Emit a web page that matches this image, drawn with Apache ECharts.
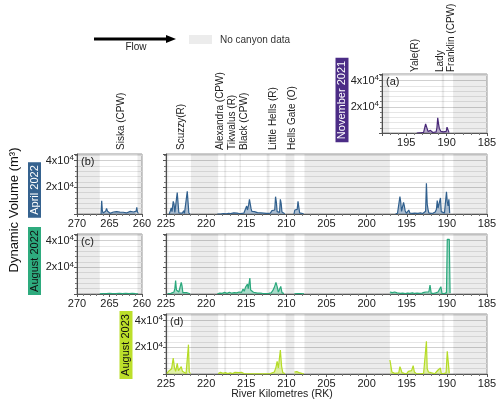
<!DOCTYPE html>
<html>
<head>
<meta charset="utf-8">
<script src="https://cdn.jsdelivr.net/npm/echarts@6/dist/echarts.min.js"></script>
<style>
  html, body { margin: 0; padding: 0; background: #fff; }
  #chart { width: 500px; height: 406px; }
</style>
</head>
<body>
<div id="chart"></div>
<script>
// [river km, dynamic volume (m3)]; a null volume breaks the line
const nov2021 = [[193.7,0],[193.4,200],[193.1,300],[192.85,400],[192.7,1500],[192.6,7000],[192.5,6000],[192.4,6800],[192.3,1200],[192.15,600],[192.0,2000],[191.9,500],[191.7,400],[191.5,600],[191.3,800],[191.2,4000],[191.1,11500],[191.0,7000],[190.9,3500],[190.8,4200],[190.7,1200],[190.55,600],[190.4,800],[190.3,2000],[190.2,900],[190.05,1200],[189.95,4500],[189.8,4800],[189.7,300]];

const apr2022Siska = [[266.3,0],[266.2,10000],[266.1,2500],[266.0,800],[265.8,1200],[265.6,2000],[265.45,4200],[265.3,2000],[265.1,700],[264.9,500],[264.6,900],[264.4,1500],[264.2,700],[263.9,1800],[263.7,900],[263.4,1400],[263.1,600],[262.9,1300],[262.6,1900],[262.4,800],[262.1,1200],[261.8,2000],[261.6,900],[261.3,1500],[261.1,700],[260.9,2200],[260.8,5000],[260.7,1500],[260.55,400]];

const apr2022 = [[224.6,0],[224.45,2500],[224.35,4500],[224.25,1800],[224.1,9500],[224.0,7500],[223.9,1200],[223.75,600],[223.6,16000],[223.5,14500],[223.4,900],[223.2,500],[222.95,700],[222.8,2500],[222.7,500],[222.5,400],[222.35,17000],[222.25,15500],[222.15,600],[222.0,200],
  [220,null],
  [218.6,0],[218.5,900],[218.4,200],[218.1,150],[217.8,300],[217.5,200],[217.2,400],[216.95,300],[216.85,1300],[216.75,400],[216.55,900],[216.35,300],[216.15,700],[215.9,300],[215.6,400],[215.3,600],[215.1,1500],[214.95,6000],[214.85,3000],[214.7,7000],[214.6,11000],[214.5,10500],[214.4,4000],[214.3,2000],[214.15,3000],[214.0,1800],[213.8,2200],[213.6,1000],[213.4,1600],[213.2,900],[213.0,1300],[212.8,700],[212.5,400],[212.25,500],[212.0,700],[211.8,2500],[211.7,1200],[211.6,3500],[211.45,3000],[211.35,13000],[211.25,9000],[211.15,1800],[211.0,1500],[210.85,1200],[210.75,11000],[210.65,8000],[210.55,1500],[210.4,400],[210.2,200],
  [209.5,null],
  [209.05,0],[208.95,3000],[208.85,2000],[208.75,4500],[208.65,3500],[208.55,9500],[208.45,10500],[208.35,900],[208.15,400],[207.85,200],
  [202,null],
  [196.4,0],[196.15,600],[196.0,1000],[195.85,13000],[195.75,9000],[195.65,2000],[195.5,3000],[195.4,8700],[195.3,6000],[195.2,2500],[195.05,500],[194.85,1000],[194.75,3000],[194.6,600],[194.3,400],[194.0,700],[193.6,500],[193.3,800],[193.0,400],[192.8,700],[192.65,2000],[192.55,23000],[192.45,7500],[192.35,3500],[192.25,800],[192.0,500],[191.7,700],[191.45,1500],[191.3,3500],[191.2,10000],[191.1,4500],[191.0,3000],[190.9,5000],[190.8,12000],[190.7,1800],[190.5,800],[190.3,700],[190.15,2000],[190.05,16700],[189.95,9000],[189.85,6000],[189.75,11000],[189.65,600]];

const aug2022Siska = [[266.5,200],[266.0,300],[265.5,250],[265.0,400],[264.5,300],[264.0,350],[263.5,500],[263.0,300],[262.5,400],[262.0,300],[261.5,450],[261.0,300],[260.6,200]];

const aug2022 = [[224.8,300],[224.6,700],[224.4,500],[224.2,800],[224.0,1500],[223.9,4000],[223.8,10000],[223.7,3000],[223.55,2500],[223.4,1500],[223.25,3000],[223.1,8700],[223.0,6000],[222.9,1000],[222.7,300],[222.45,1000],[222.25,300],[222.0,200],
  [220,null],
  [218.6,200],[218.3,700],[218.0,500],[217.7,1200],[217.4,500],[217.1,1300],[216.8,600],[216.5,1000],[216.2,800],[215.9,1500],[215.6,1200],[215.4,3700],[215.25,2000],[215.1,5000],[215.0,3500],[214.85,7500],[214.75,4000],[214.55,12000],[214.45,3000],[214.3,1500],[214.1,1300],[213.9,800],[213.6,700],[213.3,600],[213.0,400],[212.6,300],[212.2,500],[211.9,800],[211.7,2500],[211.5,5000],[211.3,8700],[211.15,5500],[211.0,1500],[210.85,3500],[210.7,5700],[210.55,1000],[210.3,300],
  [209.5,null],
  [209.0,200],[208.8,500],[208.6,300],[208.4,600],[208.2,300],[208.0,400],[207.8,200],
  [202,null],
  [197.1,1500],[196.95,2500],[196.8,1000],[196.65,2000],[196.5,1500],[196.35,2500],[196.2,800],[196.0,1500],[195.8,500],[195.5,700],[195.2,300],[194.9,600],[194.6,500],[194.3,900],[194.0,400],[193.7,600],[193.4,500],[193.1,700],[192.85,1200],[192.6,1500],[192.4,3000],[192.25,1500],[192.1,6700],[191.95,500],[191.7,400],[191.4,800],[191.1,1500],[190.95,1000],[190.75,5500],[190.6,300],[190.3,300],[190.05,1000],[189.95,41000],[189.7,41000],[189.6,500]];

const aug2023 = [[224.9,500],[224.75,1000],[224.6,2500],[224.45,1500],[224.3,4000],[224.1,12000],[223.95,5000],[223.8,2000],[223.6,8000],[223.45,2500],[223.3,1500],[223.1,5500],[222.95,2000],[222.75,500],[222.5,300],[222.35,800],[222.2,22000],[222.1,1500],[221.95,300],
  [220,null],
  [218.5,300],[218.2,1200],[217.9,500],[217.6,1000],[217.3,300],[217.0,800],[216.7,300],[216.4,1200],[216.2,1500],[215.9,1000],[215.6,1300],[215.3,300],[215.0,200],[214.5,100],[214.0,200],[213.5,150],[213.0,200],[212.5,100],[212.0,300],[211.8,1500],[211.5,1500],[211.3,5000],[211.15,9500],[211.0,4500],[210.9,3000],[210.75,18000],[210.6,6000],[210.45,1000],[210.3,300],[210.15,200],
  [209.5,null],
  [209.0,1500],[208.85,2500],[208.7,1800],[208.5,2500],[208.3,800],[208.0,300],[207.8,200],
  [202,null],
  [197.1,10500],[197.0,7000],[196.85,1500],[196.7,1200],[196.5,500],[196.3,300],[196.0,800],[195.85,5500],[195.7,3000],[195.6,1000],[195.45,2500],[195.3,500],[195.0,300],[194.8,2000],[194.6,800],[194.4,2500],[194.2,6200],[194.05,1500],[193.8,300],[193.5,200],[193.2,300],[192.9,500],[192.7,1500],[192.55,24500],[192.45,4000],[192.3,1500],[192.15,3000],[192.0,1000],[191.8,300],[191.5,200],[191.3,1500],[191.1,3000],[190.95,1500],[190.8,4500],[190.7,500],[190.4,300],[190.1,800],[189.95,17000],[189.8,17000],[189.7,500]];

// reaches with no canyon data [from km, to km]
const noDataMain = [[225,224.7],[221.9,218.5],[217.75,217.5],[215.85,215.65],[212.45,212.1],[210.1,209.0],[207.75,197.1],[190.6,190.3],[189.2,185]];
const noDataSiska = [[270,266.5],[260.7,260]];
const noDataNov = [[198,197.1],[190.6,190.3],[189.2,185]];

// sites marked above the panels
const sitesMain = [['Scuzzy(R)',223.1],['Alexandra (CPW)',218.25],['Tikwalus (R)',216.8],['Black (CPW)',215.2],['Little Hells (R)',211.6],['Hells Gate (O)',209.3]];
const sitesSiska = [['Siska (CPW)',263.2]];
const sitesNov = [['Yale(R)',193.9],['Lady\nFranklin (CPW)',190.1]];

const surveys = ['November 2021','April 2022','August 2022','August 2023'];
const colors = ['#482878','#31608e','#2aa87c','#b5dc26'];

const FONT = 'Liberation Sans, Arial, sans-serif';

// panel layout: a, b-left, b-right, c-left, c-right, d
const grids = [
  {left:382, top:74,  width:105, height:59},
  {left:77,  top:154, width:65,  height:60},
  {left:166, top:154, width:321, height:60},
  {left:77,  top:234, width:65,  height:60},
  {left:166, top:234, width:321, height:60},
  {left:166, top:314, width:321, height:60}
];
const xRanges = [[185,198],[260,270],[185,225],[260,270],[185,225],[185,225]];
const yLabelShown = [true,true,false,true,false,true];

function xAxisFor(i) {
  return {
    type:'value', gridIndex:i, min:xRanges[i][0], max:xRanges[i][1], interval:5, inverse:true,
    axisLine:{lineStyle:{color:'#555', width:1}},
    axisTick:{length:3, lineStyle:{color:'#555'}},
    minorTick:{show:true, splitNumber:5, length:2, lineStyle:{color:'#777'}},
    splitLine:{show:false},
    axisLabel:{fontSize:11, color:'#222', margin:4, fontFamily:FONT,
      formatter: v => (v % 5 === 0 ? String(v) : '')}
  };
}

function yAxisFor(i) {
  return {
    type:'value', gridIndex:i, min:0, max:45000, interval:20000,
    axisLine:{show:true, lineStyle:{color:'#555', width:1}},
    axisTick:{show:true, length:3, lineStyle:{color:'#555'}},
    minorTick:{show:true, splitNumber:5, length:2, lineStyle:{color:'#777'}},
    splitLine:{show:true, lineStyle:{color:'#d0d0d0'}},
    minorSplitLine:{show:true, lineStyle:{color:'#e6e6e6'}},
    axisLabel:{show:yLabelShown[i], fontSize:11, color:'#222', margin:3, fontFamily:FONT,
      formatter: v => (v === 20000 || v === 40000 ? (v/10000) + 'x10{sup|4}' : ''),
      rich:{sup:{fontSize:8, verticalAlign:'top', padding:[0,0,6,0], fontFamily:FONT, color:'#222'}}}
  };
}

function areas(list) {
  return {
    silent:true,
    itemStyle:{color:'rgba(0,0,0,0.075)'},
    data:list.map(r => [{xAxis:r[0]}, {xAxis:r[1]}])
  };
}

function series(i, data, color, shade) {
  return {
    type:'line', xAxisIndex:i, yAxisIndex:i, data:data, showSymbol:false,
    connectNulls:false, animation:false,
    lineStyle:{color:color, width:1.2},
    areaStyle:{color:color, opacity:0.4},
    markArea:areas(shade)
  };
}

const chart = echarts.init(document.getElementById('chart'));
chart.setOption({
  animation:false,
  grid:grids.map(g => Object.assign({show:true, borderColor:'#999', borderWidth:1}, g)),
  xAxis:grids.map((g,i) => xAxisFor(i)),
  yAxis:grids.map((g,i) => yAxisFor(i)),
  series:[
    series(0, nov2021, colors[0], noDataNov),
    series(1, apr2022Siska, colors[1], noDataSiska),
    series(2, apr2022, colors[1], noDataMain),
    series(3, aug2022Siska, colors[2], noDataSiska),
    series(4, aug2022, colors[2], noDataMain),
    series(5, aug2023, colors[3], noDataMain)
  ]
});

// rotated site names, placed from their river km, reading upwards from the baseline
function siteLabels(list, gridIdx, bottom) {
  return list.map(([name, km]) => ({
    type:'text',
    x:chart.convertToPixel({xAxisIndex:gridIdx}, km), y:bottom,
    rotation:Math.PI/2,
    style:{text:name, fill:'#222', font:'10px ' + FONT, align:'left', verticalAlign:'middle', lineHeight:11}
  }));
}

function surveyBox(text, x, y, bg, fg) {
  return {type:'text', x:x, y:y, rotation:Math.PI/2,
    style:{text:text, fill:fg, backgroundColor:bg, padding:[1,3,1,3], font:'11px ' + FONT,
      align:'center', verticalAlign:'middle'}};
}

const letters = ['(a)','(b)',null,'(c)',null,'(d)'];
const graphics = [
  {type:'line', shape:{x1:94, y1:39, x2:168, y2:39}, style:{stroke:'#000', lineWidth:3}},
  {type:'polygon', shape:{points:[[166,35],[176,39],[166,43]]}, style:{fill:'#000'}},
  {type:'text', x:136, y:47, style:{text:'Flow', fill:'#222', font:'10px ' + FONT, align:'center', verticalAlign:'middle'}},
  {type:'rect', shape:{x:189, y:35, width:23, height:9}, style:{fill:'#ececec'}},
  {type:'text', x:220, y:40, style:{text:'No canyon data', fill:'#333', font:'10px ' + FONT, align:'left', verticalAlign:'middle'}},
  surveyBox(surveys[0], 342, 100, '#4b2c86', '#fff'),
  surveyBox(surveys[1], 34.5, 190, '#35628f', '#fff'),
  surveyBox(surveys[2], 34.5, 261, '#2eab7e', '#111'),
  surveyBox(surveys[3], 126, 345, '#bcdf2a', '#111'),
  {type:'text', x:14, y:210, rotation:Math.PI/2,
    style:{text:'Dynamic Volume (m³)', fill:'#111', font:'13px ' + FONT, align:'center', verticalAlign:'middle'}},
  {type:'text', x:282, y:394,
    style:{text:'River Kilometres (RK)', fill:'#222', font:'10.5px ' + FONT, align:'center', verticalAlign:'middle'}}
];
letters.forEach((t, i) => {
  if (t) graphics.push({type:'text', x:grids[i].left + 4, y:grids[i].top + 8,
    style:{text:t, fill:'#222', font:'11px ' + FONT, align:'left', verticalAlign:'middle'}});
});

chart.setOption({
  graphic:graphics
    .concat(siteLabels(sitesMain, 2, 150))
    .concat(siteLabels(sitesSiska, 1, 150))
    .concat(siteLabels(sitesNov, 0, 72))
});
</script>
</body>
</html>
